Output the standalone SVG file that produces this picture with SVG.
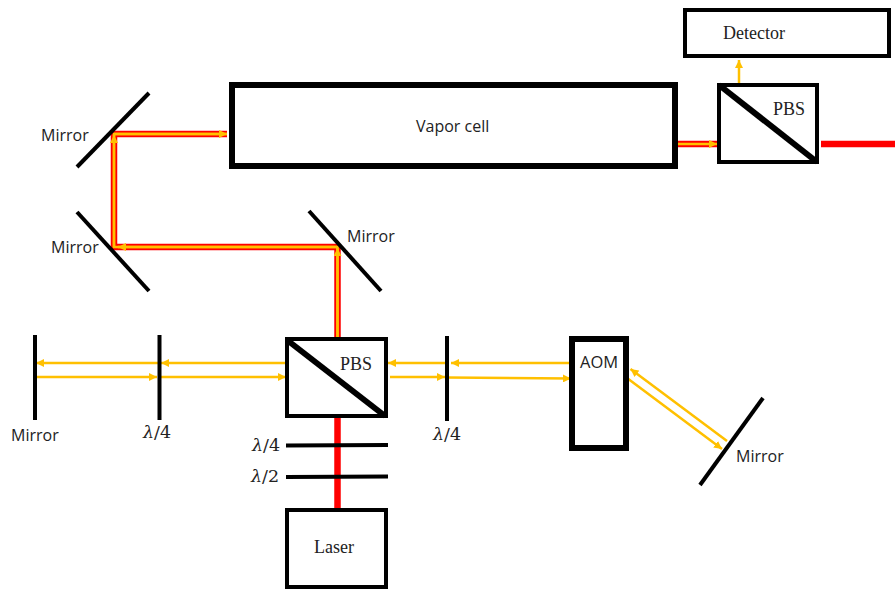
<svg xmlns="http://www.w3.org/2000/svg" width="895" height="590" viewBox="0 0 895 590">
<style>
.box{fill:#fff;stroke:#000;stroke-width:4}
.thick{fill:#fff;stroke:#000;stroke-width:6}
.el{fill:none;stroke:#000;stroke-width:4}
.diag{fill:none;stroke:#000;stroke-width:6}
.red{fill:none;stroke:#f00;stroke-width:6.500}
.y{fill:none;stroke:#FFC000;stroke-width:2.500}
.ya{fill:none;stroke:#FFC000;stroke-width:2.500;marker-end:url(#a)}
.sans{font-family:"Open Sans","Noto Sans",sans-serif;font-size:16px;fill:#222}
.serif{font-family:"Liberation Serif",serif;font-size:18px;fill:#222}
.math{font-family:"DejaVu Serif","Liberation Serif",serif;font-size:17.500px;fill:#222}
.math .i{font-style:italic}
</style>
<defs>
<marker id="a" markerUnits="userSpaceOnUse" markerWidth="9" markerHeight="8" refX="8" refY="4" orient="auto">
<path d="M0 0L8 4L0 8Z" fill="#FFC000"/>
</marker>
</defs>
<g id="connectors">
<path class="red" d="M337.500 416V509"/>
<path class="red" d="M337.500 338V247H114V134H227"/>
<path class="red" d="M677 144H718"/>
<path class="red" d="M821 144H895"/>
<path class="y" d="M337.500 338V247H114V134H227"/>
<path class="ya" d="M337.500 338V248"/>
<path class="ya" d="M338 247H118"/>
<path class="ya" d="M114 247V135"/>
<path class="ya" d="M114 134H227"/>
<path class="ya" d="M677 144H717"/>
<path class="ya" d="M739 83V60"/>
<path class="ya" d="M287 363H161"/>
<path class="ya" d="M159 363H36"/>
<path class="ya" d="M35 377H157"/>
<path class="ya" d="M160 377H286"/>
<path class="ya" d="M445 363H388"/>
<path class="ya" d="M569 363H451"/>
<path class="ya" d="M390 377H445"/>
<path class="ya" d="M447 377.500L571 378.500"/>
<path class="ya" d="M727 441L630.500 369"/>
<path class="ya" d="M627 378L722 449"/>
</g>
<g id="vapor-cell"><rect class="thick" x="232" y="85" width="443" height="81" fill-opacity="0"/><text class="sans" x="416" y="132">Vapor cell</text></g>
<g id="detector"><rect class="box" x="685" y="10" width="204" height="46"/><text class="serif" x="723" y="39">Detector</text></g>
<g id="pbs-top"><rect class="box" x="719" y="85" width="98" height="77"/><path class="diag" d="M719 85L817 162"/><text class="serif" x="773" y="115">PBS</text></g>
<g id="pbs-main"><rect class="box" x="287" y="339" width="99" height="77"/><path class="diag" d="M287 340L385 416"/><text class="serif" x="340" y="370">PBS</text></g>
<g id="laser"><rect class="box" x="287" y="510" width="99" height="77"/><text class="serif" x="314" y="553">Laser</text></g>
<g id="aom"><rect class="thick" x="572" y="339" width="54" height="109"/><text class="sans" x="580" y="368" font-size="16.500" style="font-size:16.500px">AOM</text></g>
<g id="mirror-1"><path class="el" d="M77 167L149 93"/><text class="sans" x="41" y="141">Mirror</text></g>
<g id="mirror-2"><path class="el" d="M77 212L149 291"/><text class="sans" x="51" y="253">Mirror</text></g>
<g id="mirror-3"><path class="el" d="M309 211L381 291"/><text class="sans" x="347" y="242">Mirror</text></g>
<g id="mirror-4"><path class="el" d="M35 335V420"/><text class="sans" x="11" y="441">Mirror</text></g>
<g id="mirror-5"><path class="el" d="M700 485L763 398"/><text class="sans" x="736" y="462">Mirror</text></g>
<g id="qwp-left"><path class="el" d="M159.500 335V420"/><text class="math" x="143" y="438"><tspan class="i">λ</tspan>/4</text></g>
<g id="qwp-right"><path class="el" d="M447 336V421"/><text class="math" x="433" y="440"><tspan class="i">λ</tspan>/4</text></g>
<g id="qwp-laser"><path class="el" d="M286 445.500L388 445"/><text class="math" x="252" y="451"><tspan class="i">λ</tspan>/4</text></g>
<g id="hwp-laser"><path class="el" d="M286 477L388 476.500"/><text class="math" x="251" y="482"><tspan class="i">λ</tspan>/2</text></g>
</svg>
